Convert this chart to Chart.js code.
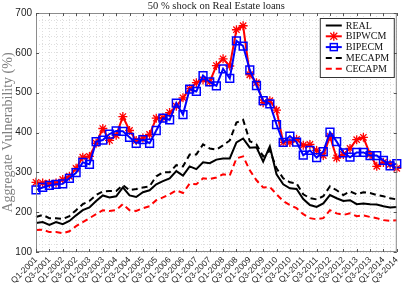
<!DOCTYPE html>
<html>
<head>
<meta charset="utf-8">
<script src="https://cdn.jsdelivr.net/npm/chart.js@4.4.0/dist/chart.umd.min.js"></script>
<style>
  html, body { margin: 0; padding: 0; background: #fff; }
  #wrap { width: 407px; height: 290px; }
</style>
</head>
<body>
<div id="wrap"><canvas id="vulnChart"></canvas></div>
<script>
// quarters Q1-2001 .. Q3-2014
const quarters = [];
for (let y = 2001; y <= 2014; y++) {
    for (let q = 1; q <= 4; q++) {
        if (y === 2014 && q > 3) break;
        quarters.push('Q' + q + '-' + y);
    }
}

const real = [173, 175, 168, 175, 170, 178, 192, 205, 212, 228, 242, 237, 240, 262, 242, 238, 250, 255, 270, 278,
    285, 303, 292, 315, 308, 325, 323, 332, 335, 335, 375, 385, 362, 363, 327, 365, 295, 270, 260, 258,
    233, 218, 213, 222, 243, 235, 228, 230, 220, 222, 220, 219, 215, 212, 213];
const bipwcm = [275, 273, 272, 273, 282, 290, 310, 338, 340, 373, 410, 380, 393, 440, 405, 380, 386, 395, 436, 437,
    450, 466, 487, 510, 525, 532, 527, 568, 585, 567, 658, 668, 545, 525, 475, 480, 456, 375, 375, 383,
    368, 370, 355, 342, 390, 336, 345, 360, 382, 388, 345, 315, 325, 320, 310];
const bipecm = [256, 262, 267, 270, 271, 285, 299, 325, 320, 377, 381, 396, 404, 403, 388, 373, 382, 373, 405, 436,
    432, 474, 445, 509, 503, 543, 527, 517, 560, 536, 630, 617, 557, 518, 480, 472, 420, 375, 391, 376,
    343, 355, 337, 352, 401, 377, 349, 338, 350, 350, 342, 342, 330, 316, 322];
const mecapm = [188, 193, 185, 185, 183, 190, 205, 220, 228, 243, 252, 253, 253, 268, 255, 258, 262, 265, 290, 300,
    300, 318, 315, 345, 345, 370, 360, 357, 368, 380, 425, 432, 378, 370, 340, 355, 310, 285, 275, 272,
    245, 235, 232, 240, 265, 255, 243, 252, 245, 250, 248, 243, 240, 235, 232];
const cecapm = [155, 156, 150, 150, 147, 152, 165, 175, 185, 195, 205, 203, 205, 220, 205, 203, 210, 215, 230, 237,
    245, 255, 248, 272, 270, 285, 283, 287, 295, 292, 335, 340, 305, 280, 262, 263, 245, 228, 218, 210,
    195, 185, 182, 185, 205, 197, 193, 197, 190, 192, 188, 185, 180, 178, 180];

const serif = '"Liberation Serif", "DejaVu Serif", serif';
const sans = '"Liberation Sans", Arial, sans-serif';

// title, box, inner ticks and the legend, drawn MATLAB-style
const matlabBox = {
    id: 'matlabBox',
    afterDraw(chart) {
        const ctx = chart.ctx;
        const a = chart.chartArea;
        const xs = chart.scales.x;
        const ys = chart.scales.y;
        ctx.save();

        ctx.font = '10.5px ' + serif;
        ctx.fillStyle = '#222';
        ctx.textAlign = 'center';
        ctx.textBaseline = 'middle';
        ctx.fillText('50 % shock on Real Estate loans', (a.left + a.right) / 2, 6.5);

        ctx.strokeStyle = '#8c8c8c';
        ctx.lineWidth = 1;
        ctx.strokeRect(a.left + 0.5, a.top + 0.5, a.right - a.left - 1, a.bottom - a.top - 1);

        ctx.strokeStyle = '#555';
        ctx.beginPath();
        for (let i = 0; i < quarters.length; i += 2) {
            const px = Math.round(xs.getPixelForValue(i)) + 0.5;
            ctx.moveTo(px, a.bottom); ctx.lineTo(px, a.bottom - 3);
            ctx.moveTo(px, a.top); ctx.lineTo(px, a.top + 3);
        }
        for (let v = 100; v <= 700; v += 100) {
            const py = Math.round(ys.getPixelForValue(v)) + 0.5;
            ctx.moveTo(a.left, py); ctx.lineTo(a.left + 3, py);
            ctx.moveTo(a.right, py); ctx.lineTo(a.right - 3, py);
        }
        ctx.stroke();

        // legend
        const bx = a.right - 77, by = a.top + 5, bw = 74, bh = 59;
        ctx.fillStyle = '#fff';
        ctx.fillRect(bx, by, bw, bh);
        ctx.strokeStyle = '#333';
        ctx.strokeRect(bx + 0.5, by + 0.5, bw, bh);
        ctx.font = '10px ' + serif;
        ctx.textAlign = 'left';
        chart.data.datasets.forEach((ds, k) => {
            const yy = by + 7.5 + k * 10.8;
            const x0 = bx + 6, x1 = bx + 22;
            ctx.save();
            ctx.strokeStyle = ds.borderColor;
            ctx.lineWidth = 2;
            ctx.setLineDash(ds.borderDash || []);
            ctx.beginPath(); ctx.moveTo(x0, yy); ctx.lineTo(x1, yy); ctx.stroke();
            ctx.setLineDash([]);
            const cx = (x0 + x1) / 2;
            if (ds.pointStyle === 'rect') {
                ctx.lineWidth = 1.5;
                ctx.strokeRect(cx - 3.5, yy - 3.5, 7, 7);
            } else if (ds.pointStyle === 'star') {
                ctx.lineWidth = 1.3;
                ctx.beginPath();
                ctx.moveTo(cx - 3.5, yy - 3.5); ctx.lineTo(cx + 3.5, yy + 3.5);
                ctx.moveTo(cx + 3.5, yy - 3.5); ctx.lineTo(cx - 3.5, yy + 3.5);
                ctx.moveTo(cx, yy - 4.5); ctx.lineTo(cx, yy + 4.5);
                ctx.stroke();
            }
            ctx.restore();
            ctx.fillStyle = '#111';
            ctx.fillText(ds.label, bx + 26, yy + 0.5);
        });
        ctx.restore();
    }
};

window.addEventListener('load', function() {
    const ctx = document.getElementById('vulnChart').getContext('2d');
    new Chart(ctx, {
        type: 'line',
        data: {
            labels: quarters,
            datasets: [
                { label: 'REAL', data: real, borderColor: '#000', borderWidth: 2, pointRadius: 0, order: 5 },
                { label: 'BIPWCM', data: bipwcm, borderColor: '#ff0000', borderWidth: 2,
                  pointStyle: 'star', pointRadius: 4.5, pointBorderWidth: 1.3,
                  pointBorderColor: '#ff0000', pointBackgroundColor: 'rgba(0,0,0,0)', order: 4 },
                { label: 'BIPECM', data: bipecm, borderColor: '#0000ff', borderWidth: 2,
                  pointStyle: 'rect', pointRadius: 5.5, pointBorderWidth: 1.5,
                  pointBorderColor: '#0000ff', pointBackgroundColor: 'rgba(0,0,0,0)', order: 3 },
                { label: 'MECAPM', data: mecapm, borderColor: '#000', borderWidth: 2,
                  borderDash: [6, 4], pointRadius: 0, order: 2 },
                { label: 'CECAPM', data: cecapm, borderColor: '#ff0000', borderWidth: 2,
                  borderDash: [6, 4], pointRadius: 0, order: 1 }
            ]
        },
        options: {
            responsive: true,
            maintainAspectRatio: false,
            animation: false,
            layout: { padding: { top: 13, right: 7, left: 0, bottom: 0 } },
            elements: { line: { tension: 0 } },
            plugins: {
                legend: { display: false },
                title: { display: false },
                tooltip: { enabled: false }
            },
            scales: {
                x: {
                    offset: false,
                    afterFit: function(scale) { scale.height = 38; },
                    grid: { color: '#dedede', drawTicks: false },
                    border: { display: false, dash: [1, 2] },
                    ticks: {
                        autoSkip: false,
                        maxRotation: 45,
                        minRotation: 45,
                        padding: 3,
                        color: '#222',
                        font: { family: sans, size: 8.5 },
                        callback: function(val, i) { return i % 2 === 0 ? quarters[i] : ''; }
                    }
                },
                y: {
                    min: 100,
                    max: 700,
                    afterFit: function(scale) { scale.width = 36; },
                    grid: { color: '#dedede', drawTicks: false },
                    border: { display: false, dash: [1, 2] },
                    ticks: {
                        stepSize: 20,
                        autoSkip: false,
                        padding: 4,
                        color: '#222',
                        font: { family: sans, size: 10 },
                        callback: function(v) { return v % 100 === 0 ? v : ''; }
                    },
                    title: {
                        display: true,
                        text: 'Aggregate Vulnerability (%)',
                        color: '#808080',
                        padding: { top: 0, bottom: 1 },
                        font: { family: serif, size: 14 }
                    }
                }
            }
        },
        plugins: [matlabBox]
    });
});
</script>
</body>
</html>
